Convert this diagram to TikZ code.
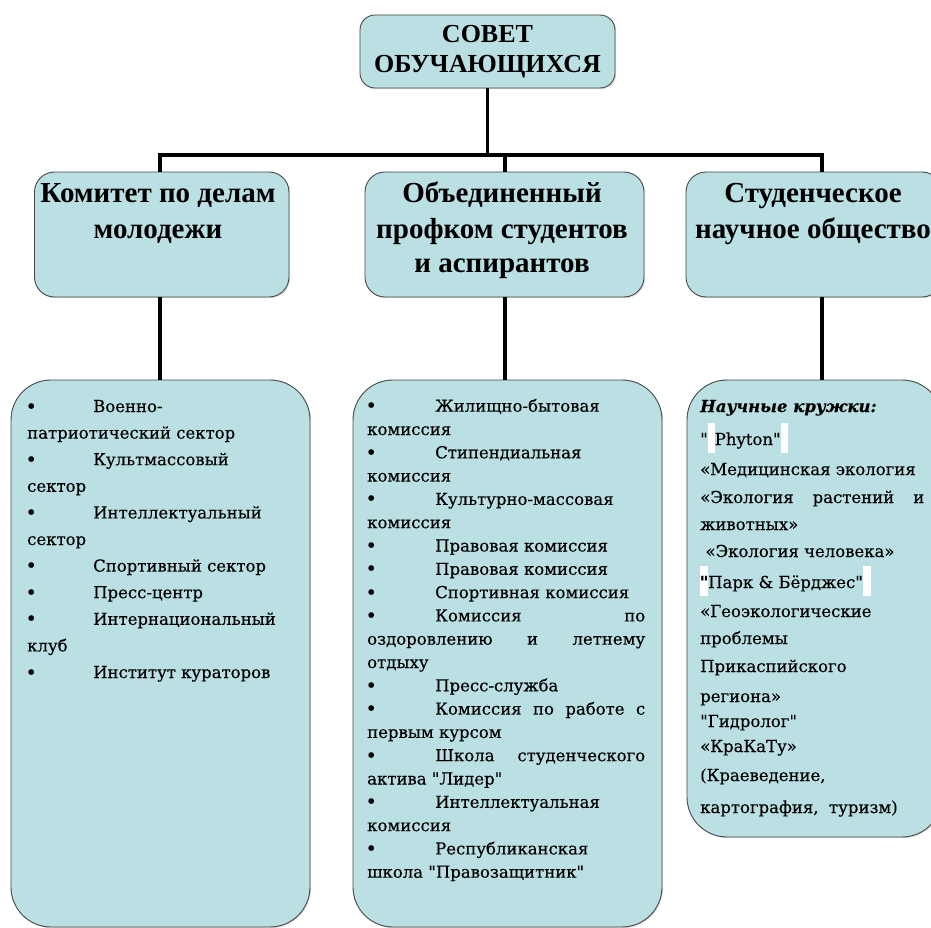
\documentclass[tikz,border=0pt]{standalone}
\usepackage{fontspec}
\setmainfont{Liberation Serif}
\newfontfamily\listfont{DejaVu Serif}[FakeBold=0.3]
\usetikzlibrary{shadows}
\definecolor{boxfill}{RGB}{187,224,227}
\definecolor{boxline}{RGB}{70,70,70}
\newcommand\hlbox[1]{{\color{white}\rule[-8pt]{#1}{30pt}}}
\newcommand\dq{\char34\relax}
\newcommand\bul{\raisebox{-2pt}{\normalfont\fontsize{24}{24}\selectfont •}}
\begin{document}
\begin{tikzpicture}[x=1pt,y=-1pt,
  box/.style={draw=boxline, line width=0.9pt, fill=boxfill, rounded corners=#1, inner sep=0pt,
    drop shadow={opacity=0.25, shadow xshift=1.2pt, shadow yshift=-1.2pt}},
  conn/.style={line width=3.5pt, black},
  toph/.style={anchor=base, inner sep=0pt, font=\fontsize{26}{30}\selectfont\bfseries},
  hdr/.style={anchor=base, inner sep=0pt, font=\fontsize{29}{34}\selectfont\bfseries},
  ln/.style={anchor=base west, inner sep=0pt, font=\listfont\fontsize{16.5}{20}\selectfont},
]
\useasboundingbox (0,0) rectangle (931,928);
\clip (0,0) rectangle (931,928);

% boxes
\node[box=15pt, minimum width=255pt, minimum height=73pt] (top) at (487.5,51.5) {};
\node[box=20pt, minimum width=254.5pt, minimum height=125pt] (m1) at (161.75,234.5) {};
\node[box=20pt, minimum width=279pt, minimum height=125pt] (m2) at (504.5,234.5) {};
\node[box=20pt, minimum width=256pt, minimum height=125pt] (m3) at (814,234.5) {};
\node[box=40pt, minimum width=299pt, minimum height=547pt] (b1) at (160.5,653.5) {};
\node[box=40pt, minimum width=309pt, minimum height=547pt] (b2) at (507.5,653.5) {};
\node[box=40pt, minimum width=255pt, minimum height=457pt] (b3) at (814.5,608.5) {};

% connectors
\coordinate (busL) at (160,155);
\coordinate (busM) at (505,155);
\coordinate (busR) at (822,155);
\draw[conn] (top.south) -- (top.south |- busL);
\draw[conn, line cap=rect] (busL) -- (busR);
\draw[conn] (busL) -- (busL |- m1.north);
\draw[conn] (busM) -- (busM |- m2.north);
\draw[conn] (busR) -- (busR |- m3.north);
\draw[conn] (busL |- m1.south) -- (busL |- b1.north);
\draw[conn] (busM |- m2.south) -- (busM |- b2.north);
\draw[conn] (busR |- m3.south) -- (busR |- b3.north);

% headers
\node[toph] (t1) at (487.5,43) {СОВЕТ};
\node[toph] (t2) at (487.5,73) {ОБУЧАЮЩИХСЯ};
\node[hdr] (h11) at (158,203) {Комитет по делам};
\node[hdr] (h12) at (158,238) {молодежи};
\node[hdr] (h21) at (502,203) {Объединенный};
\node[hdr] (h22) at (502,238) {профком студентов};
\node[hdr] (h23) at (502,272) {и аспирантов};
\node[hdr] (h31) at (813,203) {Студенческое};
\node[hdr] (h32) at (813,238) {научное общество};

% left list
\node[ln] (a1) at (27,412) {\makebox[66pt][l]{\bul}Военно-};
\node[ln] (a2) at (27,438.6) {патриотический сектор};
\node[ln] (a3) at (27,465.2) {\makebox[66pt][l]{\bul}Культмассовый};
\node[ln] (a4) at (27,491.8) {сектор};
\node[ln] (a5) at (27,518.4) {\makebox[66pt][l]{\bul}Интеллектуальный};
\node[ln] (a6) at (27,545) {сектор};
\node[ln] (a7) at (27,571.6) {\makebox[66pt][l]{\bul}Спортивный сектор};
\node[ln] (a8) at (27,598.2) {\makebox[66pt][l]{\bul}Пресс-центр};
\node[ln] (a9) at (27,624.8) {\makebox[66pt][l]{\bul}Интернациональный};
\node[ln] (a10) at (27,651.4) {клуб};
\node[ln] (a11) at (27,678) {\makebox[66pt][l]{\bul}Институт кураторов};

% middle list
\node[ln] (c0) at (367,411.7) {\makebox[68pt][l]{\bul}Жилищно-бытовая};
\node[ln] (c1) at (367,435.0) {комиссия};
\node[ln] (c2) at (367,458.3) {\makebox[68pt][l]{\bul}Стипендиальная};
\node[ln] (c3) at (367,481.6) {комиссия};
\node[ln] (c4) at (367,504.9) {\makebox[68pt][l]{\bul}Культурно-массовая};
\node[ln] (c5) at (367,528.2) {комиссия};
\node[ln] (c6) at (367,551.5) {\makebox[68pt][l]{\bul}Правовая комиссия};
\node[ln] (c7) at (367,574.8) {\makebox[68pt][l]{\bul}Правовая комиссия};
\node[ln] (c8) at (367,598.1) {\makebox[68pt][l]{\bul}Спортивная комиссия};
\node[ln] (c9) at (367,621.4) {\makebox[278pt][s]{\makebox[68pt][l]{\bul}Комиссия\hfill по}};
\node[ln] (c10) at (367,644.7) {\makebox[278pt][s]{оздоровлению\hfill и\hfill летнему}};
\node[ln] (c11) at (367,668.0) {отдыху};
\node[ln] (c12) at (367,691.3) {\makebox[68pt][l]{\bul}Пресс-служба};
\node[ln] (c13) at (367,714.6) {\makebox[278pt][s]{\makebox[68pt][l]{\bul}Комиссия\hfill по\hfill работе\hfill с}};
\node[ln] (c14) at (367,737.9) {первым курсом};
\node[ln] (c15) at (367,761.2) {\makebox[278pt][s]{\makebox[68pt][l]{\bul}Школа\hfill студенческого}};
\node[ln] (c16) at (367,784.5) {актива \dq Лидер\dq};
\node[ln] (c17) at (367,807.8) {\makebox[68pt][l]{\bul}Интеллектуальная};
\node[ln] (c18) at (367,831.1) {комиссия};
\node[ln] (c19) at (367,854.4) {\makebox[68pt][l]{\bul}Республиканская};
\node[ln] (c20) at (367,877.7) {школа \dq Правозащитник\dq};

% right list
\node[ln] (r1) at (700,412) {\textbf{\textit{Научные кружки:}}};
\node[ln] (r2) at (700,445) {\dq\hlbox{7pt}Phyton\dq\hlbox{7pt}};
\node[ln] (r3) at (700,475) {«Медицинская экология};
\node[ln] (r4) at (700,503) {\makebox[224pt][s]{«Экология\hfill растений\hfill и}};
\node[ln] (r5) at (700,530) {животных»};
\node[ln] (r6) at (700,557) {\ «Экология человека»};
\node[ln] (r7) at (700,588) {\hlbox{8pt}\llap{\makebox[8pt]{\bfseries\dq}}Парк \& Бёрджес\dq\hlbox{8pt}};
\node[ln] (r8) at (700,617) {«Геоэкологические};
\node[ln] (r9) at (700,644) {проблемы};
\node[ln] (r10) at (700,672) {Прикаспийского};
\node[ln] (r11) at (700,702) {региона»};
\node[ln] (r12) at (700,727) {\dq Гидролог\dq};
\node[ln] (r13) at (700,752) {«КраКаТу»};
\node[ln] (r14) at (700,781) {(Краеведение,};
\node[ln] (r15) at (700,813) {картография,\ \ туризм)};
\end{tikzpicture}
\end{document}
